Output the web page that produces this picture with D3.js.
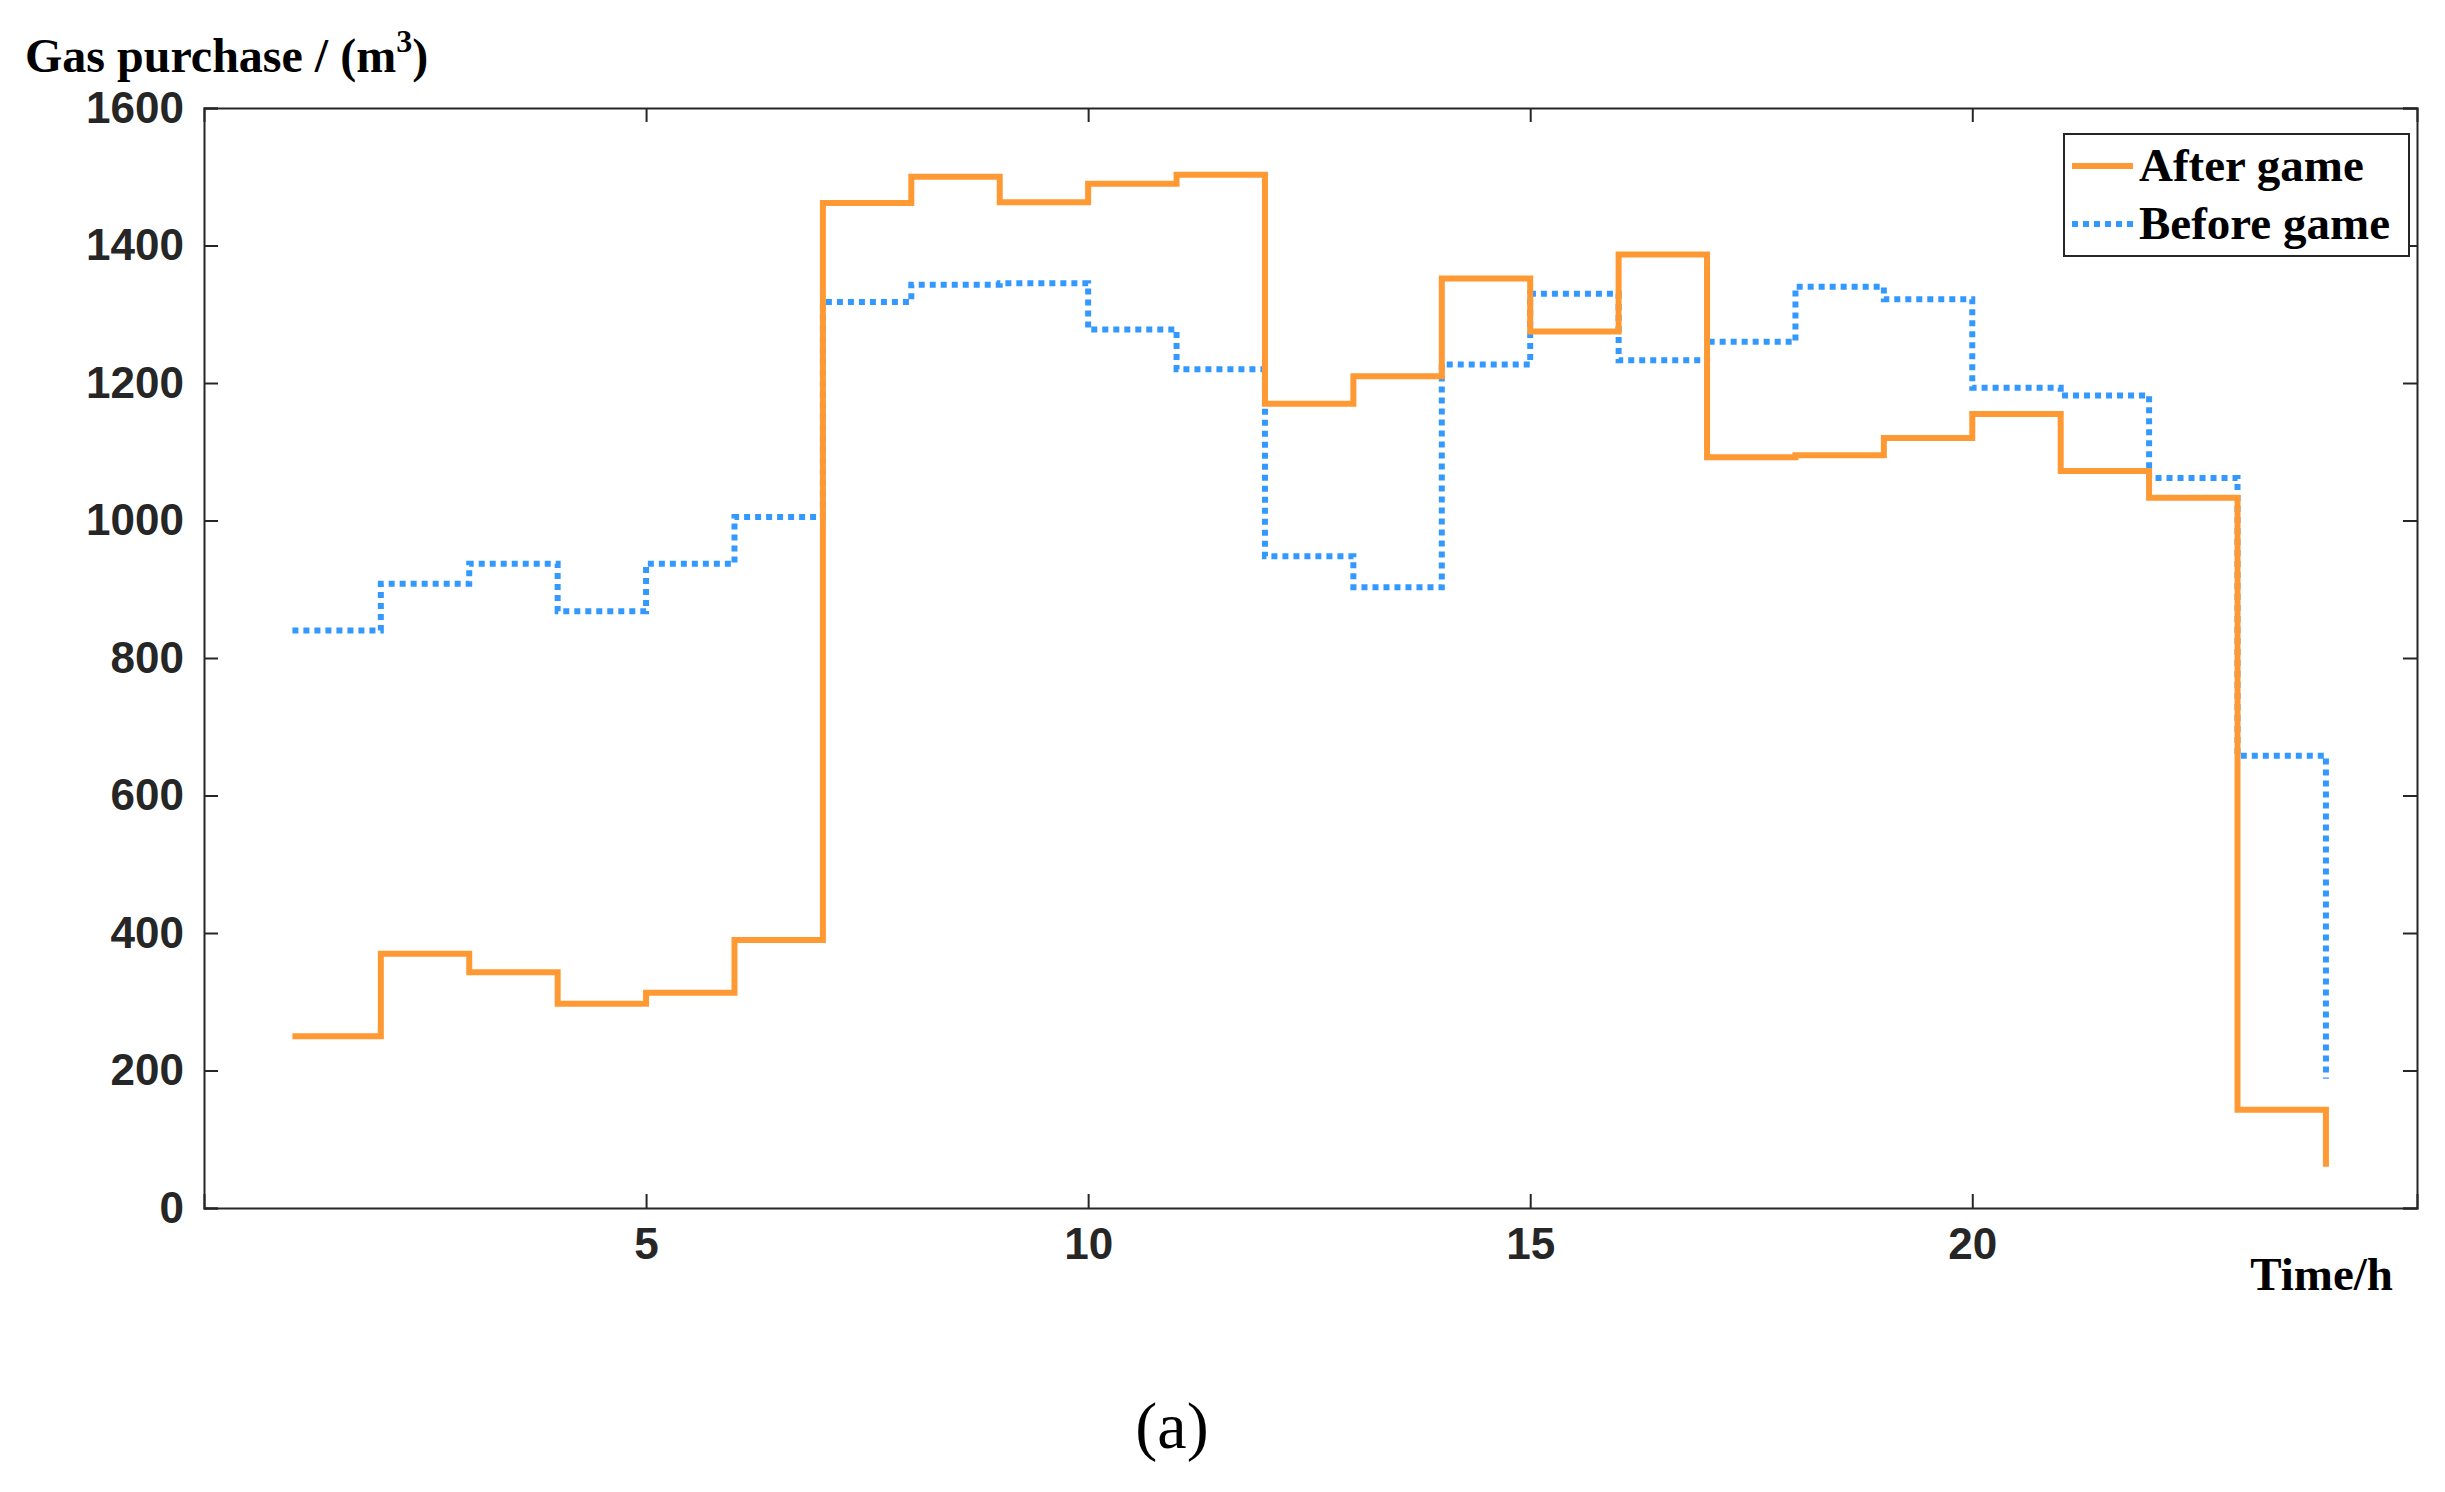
<!DOCTYPE html>
<html><head><meta charset="utf-8">
<script src="https://cdn.jsdelivr.net/npm/d3@7"></script>
<style>body{margin:0;background:#fff}</style></head>
<body><svg id="c" width="2445" height="1492"></svg>
<script>
const hours = d3.range(1, 25);
const afterGame = [250,370,343,297,313,390,1462,1500,1463,1490,1503,1170,1210,1352,1275,1387,1092,1095,1120,1155,1072,1033,143,60];
const beforeGame = [840,908,937,868,937,1005,1318,1343,1345,1278,1220,948,903,1227,1330,1233,1260,1340,1322,1193,1182,1062,658,188];
const xTicks = [5,10,15,20];
const yTicks = [0,200,400,600,800,1000,1200,1400,1600];

const svg = d3.select("#c");
const L=204, R=2417, T=108, B=1208;
const x = d3.scaleLinear().domain([0,25.03]).range([L,R]);
const y = d3.scaleLinear().domain([0,1600]).range([B,T]);
const tickFont = "bold 44px 'Liberation Sans', Arial, sans-serif";
const serifBold = "bold 47px 'Liberation Serif', 'Times New Roman', serif";

const gx = svg.append("g").attr("transform",`translate(0,${B})`)
  .call(d3.axisBottom(x).tickValues(xTicks).tickSize(-14).tickPadding(20).tickFormat(d3.format("d")));
const gxT = svg.append("g").attr("transform",`translate(0,${T})`)
  .call(d3.axisTop(x).tickValues(xTicks).tickSize(-14).tickFormat(""));
const gy = svg.append("g").attr("transform",`translate(${L},0)`)
  .call(d3.axisLeft(y).tickValues(yTicks).tickSize(-14).tickPadding(20).tickFormat(d3.format("d")));
const gyR = svg.append("g").attr("transform",`translate(${R},0)`)
  .call(d3.axisRight(y).tickValues(yTicks).tickSize(-14).tickFormat(""));
[gx,gxT,gy,gyR].forEach(g=>{
  g.selectAll("path,line").attr("stroke","#262626").attr("stroke-width",2);
  g.selectAll("text").style("font",tickFont).attr("fill","#262626");
});

const line = d3.line().x((d,i)=>x(hours[i])).y(d=>y(d)).curve(d3.curveStepAfter);
svg.append("path").datum(beforeGame).attr("d",line).attr("fill","none")
  .attr("stroke","#3399FF").attr("stroke-width",6).attr("stroke-dasharray","6,5");
svg.append("path").datum(afterGame).attr("d",line).attr("fill","none")
  .attr("stroke","#FF9933").attr("stroke-width",6);

svg.append("text").attr("x",25).attr("y",72).style("font","bold 48px 'Liberation Serif', 'Times New Roman', serif")
  .attr("fill","#000").html("Gas purchase / (m<tspan dy='-20' font-size='32'>3</tspan><tspan dy='20'>)</tspan>");
svg.append("text").attr("x",2393).attr("y",1290).attr("text-anchor","end")
  .style("font",serifBold).text("Time/h");
svg.append("text").attr("x",1172).attr("y",1448).attr("text-anchor","middle")
  .style("font","66px 'Liberation Serif', 'Times New Roman', serif").text("(a)");

const lg = svg.append("g");
lg.append("rect").attr("x",2064).attr("y",134).attr("width",345).attr("height",122)
  .attr("fill","#fff").attr("stroke","#262626").attr("stroke-width",2);
const items=[["After game","#FF9933",null],["Before game","#3399FF","6,5"]];
items.forEach((it,i)=>{
  const yy=166+i*58;
  lg.append("line").attr("x1",2072).attr("x2",2133).attr("y1",yy).attr("y2",yy)
    .attr("stroke",it[1]).attr("stroke-width",6).attr("stroke-dasharray",it[2]);
  lg.append("text").attr("x",2139).attr("y",yy+15)
    .style("font",serifBold).text(it[0]);
});
</script></body></html>
